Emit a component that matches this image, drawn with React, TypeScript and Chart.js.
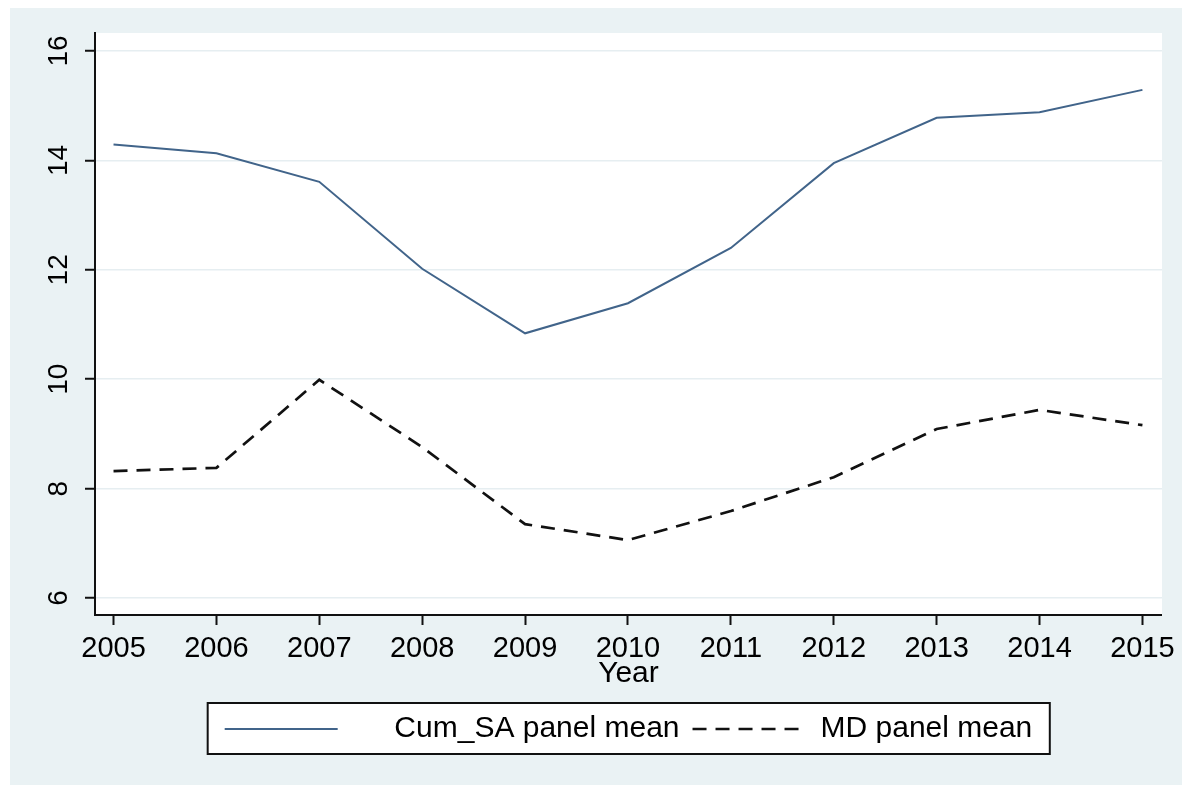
import React, { useEffect, useRef } from 'react';
import { Chart, registerables } from 'chart.js';

Chart.register(...registerables);

const years = [2005, 2006, 2007, 2008, 2009, 2010, 2011, 2012, 2013, 2014, 2015];
const cumSA = [14.29, 14.13, 13.61, 12.02, 10.84, 11.39, 12.4, 13.95, 14.78, 14.88, 15.29];
const mdMean = [8.32, 8.38, 9.99, 8.76, 7.35, 7.06, 7.59, 8.21, 9.09, 9.44, 9.16];
const xTicks = [2005, 2006, 2007, 2008, 2009, 2010, 2011, 2012, 2013, 2014, 2015];
const yTicks = [6, 8, 10, 12, 14, 16];
const seriesLabels = ['Cum_SA panel mean', 'MD panel mean'];
const xTitle = 'Year';

const FONT = '"Liberation Sans", Arial, Helvetica, sans-serif';

const stataBg = {
  id: 'stataBg',
  beforeDraw(chart: any) {
    const { ctx, chartArea: a } = chart;
    ctx.save();
    ctx.fillStyle = '#ffffff';
    ctx.fillRect(0, 0, chart.width, chart.height);
    ctx.fillStyle = '#EAF2F4';
    ctx.fillRect(10, 8, chart.width - 10, chart.height - 8);
    ctx.fillStyle = '#ffffff';
    ctx.fillRect(a.left, a.top, a.right - a.left, a.bottom - a.top);
    const hb = chart.legend && chart.legend.legendHitBoxes;
    if (hb && hb.length) {
      const first = hb[0];
      const last = hb[hb.length - 1];
      const l = first.left - 17;
      const r = last.left + last.width + 17.5;
      const t = first.top - 11;
      const b = first.top + first.height + 10;
      ctx.fillStyle = '#ffffff';
      ctx.fillRect(l, t, r - l, b - t);
      ctx.strokeStyle = '#111111';
      ctx.lineWidth = 2;
      ctx.strokeRect(l, t, r - l, b - t);
    }
    ctx.restore();
  },
};

export default function App() {
  const ref = useRef<HTMLCanvasElement | null>(null);

  useEffect(() => {
    if (!ref.current) return;
    const chart = new Chart(ref.current, {
      type: 'line',
      data: {
        datasets: [
          {
            label: seriesLabels[0],
            data: years.map((x, i) => ({ x, y: cumSA[i] })),
            borderColor: '#41648A',
            backgroundColor: '#41648A',
            borderWidth: 2,
            pointRadius: 0,
            tension: 0,
            fill: false,
          },
          {
            label: seriesLabels[1],
            data: years.map((x, i) => ({ x, y: mdMean[i] })),
            borderColor: '#111111',
            backgroundColor: '#111111',
            borderWidth: 2.7,
            borderDash: [14, 9],
            pointRadius: 0,
            tension: 0,
            fill: false,
          },
        ],
      },
      options: {
        animation: false,
        responsive: false,
        events: [],
        layout: { padding: { left: 10, right: 17, top: 33, bottom: 31 } },
        scales: {
          x: {
            type: 'linear',
            min: 2004.82,
            max: 2015.19,
            afterBuildTicks: (s: any) => {
              s.ticks = xTicks.map((v) => ({ value: v }));
            },
            afterFit: (s: any) => {
              s.height = 86;
            },
            ticks: {
              autoSkip: false,
              minRotation: 0,
              maxRotation: 0,
              padding: 7,
              color: '#000',
              font: { family: FONT, size: 29 },
              callback: (v: any) => String(v),
            },
            grid: {
              display: true,
              drawOnChartArea: false,
              drawTicks: true,
              tickLength: 10,
              tickWidth: 2,
              tickColor: '#111',
            },
            border: { display: true, color: '#111', width: 2 },
            title: {
              display: true,
              text: xTitle,
              color: '#000',
              font: { family: FONT, size: 30 },
              padding: { top: 0, bottom: 9.5 },
            },
          },
          y: {
            type: 'linear',
            min: 5.69,
            max: 16.33,
            afterBuildTicks: (s: any) => {
              s.ticks = yTicks.map((v) => ({ value: v }));
            },
            afterFit: (s: any) => {
              s.width = 85;
            },
            ticks: {
              autoSkip: false,
              minRotation: 90,
              maxRotation: 90,
              crossAlign: 'center',
              padding: 10,
              color: '#000',
              font: { family: FONT, size: 28 },
              callback: (v: any) => String(v),
            },
            grid: {
              color: '#E6EEF1',
              lineWidth: 1.5,
              tickLength: 10,
              tickWidth: 2,
              tickColor: '#111',
            },
            border: { display: true, color: '#111', width: 2 },
          },
        },
        plugins: {
          tooltip: { enabled: false },
          legend: {
            display: true,
            position: 'bottom',
            fullSize: false,
            align: 'center',
            labels: {
              usePointStyle: true,
              pointStyle: 'line',
              pointStyleWidth: 113,
              boxHeight: 30,
              padding: 13,
              color: '#000',
              font: { family: FONT, size: 30 },
              generateLabels: (c: any) =>
                c.data.datasets.map((ds: any, i: number) => ({
                  text: (i === 0 ? '     ' : '') + ds.label,
                  fillStyle: ds.borderColor,
                  strokeStyle: ds.borderColor,
                  lineWidth: ds.borderWidth,
                  lineDash: ds.borderDash || [],
                  pointStyle: 'line',
                  hidden: false,
                  datasetIndex: i,
                  fontColor: '#000',
                })),
            },
          },
        },
      } as any,
      plugins: [stataBg],
    });
    return () => chart.destroy();
  }, []);

  return (
    <div style={{ position: 'absolute', left: 0, top: 0, width: 1182, height: 785 }}>
      <canvas ref={ref} width={1182} height={785} style={{ display: 'block', width: 1182, height: 785 }} />
    </div>
  );
}
